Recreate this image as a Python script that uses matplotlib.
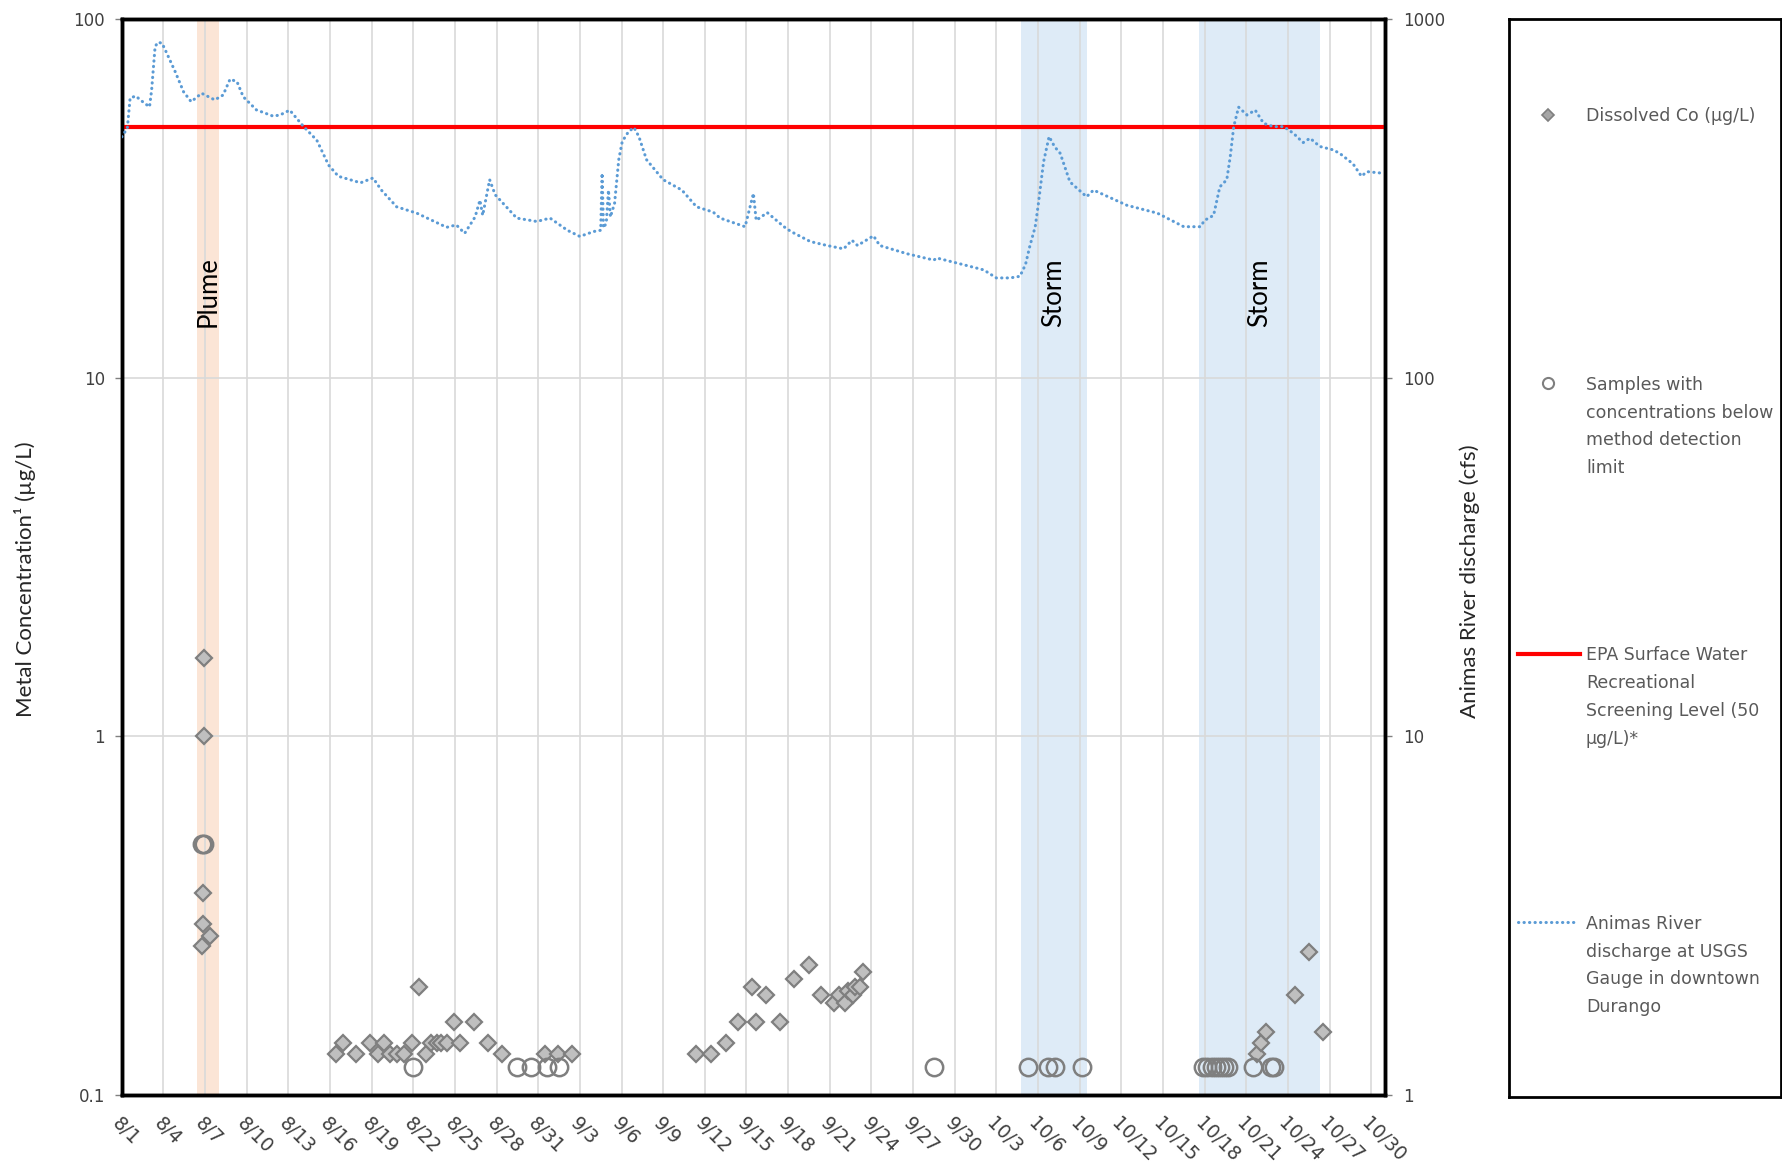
import pandas as pd
import matplotlib
matplotlib.use("Agg")
import matplotlib.pyplot as plt
from matplotlib.transforms import blended_transform_factory
from matplotlib.lines import Line2D

start = pd.Timestamp("2015-08-01")

# Animas River discharge (cfs), days after 8/1
q_day = [0.0, 0.4, 0.6, 1.0, 1.6, 2.0, 2.15, 2.4, 2.6, 2.9, 3.25, 3.85, 4.45, 5.0,
         5.75, 6.7, 7.3, 7.8, 8.3, 8.75, 9.7, 10.9, 11.4, 12.1, 13.1, 14.05, 14.9,
         15.6, 17.2, 18.1, 18.7, 19.8, 21.25, 23.4, 24.1, 24.7, 25.45, 25.8, 26.0,
         26.5, 26.9, 28.45, 29.9, 30.85, 32.1, 33.0, 34.0, 34.5, 34.6, 34.7, 34.9,
         35.06, 35.2, 35.5, 35.8, 36.05, 36.5, 36.9, 37.25, 37.8, 39.0, 40.35, 41.4,
         42.6, 43.1, 44.9, 45.5, 45.7, 46.5, 47.7, 48.2, 49.6, 50.8, 52.0, 52.6,
         53.0, 54.15, 54.6, 56.55, 58.5, 58.7, 60.6, 62.1, 63.0, 64.0, 64.7, 65.1,
         65.4, 65.8, 66.0, 66.4, 66.8, 67.2, 67.6, 68.3, 69.5, 70.0, 72.4, 74.6,
         76.5, 77.7, 78.0, 78.65, 79.1, 79.6, 79.85, 80.1, 80.45, 81.05, 81.65,
         82.25, 82.95, 83.7, 84.4, 85.1, 85.6, 86.3, 87.3, 87.8, 88.7, 89.3, 89.7,
         90.9]
q_cfs = [470, 497, 603, 611, 585, 570, 635, 839, 863, 858, 803, 714, 628, 589,
         622, 596, 615, 681, 670, 608, 559, 537, 541, 558, 502, 460, 392,
         365, 350, 361, 334, 300, 288, 263, 267, 253, 281, 313, 284,
         357, 324, 279, 273, 279, 258, 248, 256, 258, 372, 262, 270,
         334, 281, 307, 406, 456, 486, 499, 471, 406, 357, 334, 300,
         290, 279, 264, 327, 275, 289, 264, 256, 240, 234, 229, 242,
         234, 249, 234, 222, 213, 216, 207, 200, 190, 190, 192, 207,
         232, 264, 300, 400, 471, 441, 423, 352, 320, 334, 303, 288,
         264, 264, 275, 284, 341, 357, 414, 502, 569, 541, 558,
         513, 502, 502, 481, 453, 466, 442, 432, 421, 395, 365, 376,
         372]

# dissolved Co (ug/L)
co_day = [5.95, 5.95, 5.83, 5.83, 6.36, 5.76,
          15.4, 15.9, 16.9, 17.9, 18.45, 18.9, 19.3, 19.8, 20.3, 20.9, 21.4, 21.9,
          22.3, 22.7, 23.0, 23.4, 23.9, 24.4, 25.4, 26.4, 27.4, 30.5, 31.4, 32.4,
          41.4, 42.45, 43.5, 44.4, 45.4, 45.7, 46.4, 47.4, 48.45, 49.5, 50.4, 51.3,
          51.7, 52.1, 52.3, 52.65, 52.85, 53.2, 53.4,
          81.8, 82.1, 82.45, 84.5, 85.5, 86.5]
co_val = [1.66, 1.0, 0.367, 0.30, 0.278, 0.26,
          0.13, 0.14, 0.13, 0.14, 0.13, 0.14, 0.13, 0.13, 0.13, 0.14, 0.20, 0.13,
          0.14, 0.14, 0.14, 0.14, 0.16, 0.14, 0.16, 0.14, 0.13, 0.13, 0.13, 0.13,
          0.13, 0.13, 0.14, 0.16, 0.20, 0.16, 0.19, 0.16, 0.21, 0.23, 0.19, 0.18,
          0.19, 0.18, 0.195, 0.19, 0.20, 0.20, 0.22,
          0.13, 0.14, 0.15, 0.19, 0.25, 0.15]

# samples below method detection limit
mdl_day = [5.8, 5.9, 20.95, 28.45, 29.5, 30.6, 31.5, 58.5, 65.3, 66.75, 67.2, 69.2,
           77.9, 78.2, 78.5, 78.8, 79.1, 79.4, 79.7, 81.5, 82.8, 83.0]
mdl_val = [0.5, 0.5, 0.12, 0.12, 0.12, 0.12, 0.12, 0.12, 0.12, 0.12, 0.12, 0.12,
           0.12, 0.12, 0.12, 0.12, 0.12, 0.12, 0.12, 0.12, 0.12, 0.12]

screening_level = 50

plume = (5.43, 7.0)
storms = [(64.8, 69.5), (77.6, 86.3)]
band_labels = [("Plume", 6.2), ("Storm", 67.1), ("Storm", 82.0)]

tick_days = list(range(0, 91, 3))
tick_labels = [f"{d.month}/{d.day}" for d in start + pd.to_timedelta(tick_days, unit="D")]

grey_txt = "#404040"

fig = plt.figure(figsize=(17.83, 11.64), dpi=100)
ax = fig.add_axes([0.0683, 0.0593, 0.7085, 0.9241])

# shaded periods
ax.axvspan(*plume, color="#FBE5D6", zorder=0.2, lw=0)
for s0, s1 in storms:
    ax.axvspan(s0, s1, color="#DEEBF7", zorder=0.2, lw=0)

ax.set_yscale("log")
ax.set_ylim(0.1, 100)
ax.set_xlim(0, 91)
ax.set_axisbelow(True)
ax.grid(True, color="#D9D9D9", lw=1.2)
ax.set_xticks(tick_days)
ax.set_xticklabels(tick_labels, rotation=-45, ha="left", va="top", rotation_mode="anchor")
ax.set_yticks([0.1, 1, 10, 100])
ax.set_yticklabels(["0.1", "1", "10", "100"])
ax.minorticks_off()
ax.tick_params(axis="x", length=0, pad=14, labelsize=13.5, labelcolor=grey_txt)
ax.tick_params(axis="y", length=5, width=1, color="#808080", pad=7, labelsize=12,
               labelcolor=grey_txt)

ax.axhline(screening_level, color="#FF0000", lw=3, zorder=3)
ax.plot(co_day, co_val, ls="none", marker="D", ms=8.5, mfc="#BFBFBF", mec="#7F7F7F",
        mew=1.6, zorder=4)
ax.plot(mdl_day, mdl_val, ls="none", marker="o", ms=12.5, mfc="none", mec="#7F7F7F",
        mew=1.8, zorder=4)

trans = blended_transform_factory(ax.transData, ax.transAxes)
for lab, xd in band_labels:
    ax.text(xd, 0.714, lab, rotation=90, ha="center", va="bottom", transform=trans,
            fontsize=18.5, family="Lato", color="black", zorder=5)

ax2 = ax.twinx()
ax2.set_yscale("log")
ax2.set_ylim(1, 1000)
ax2.plot(q_day, q_cfs, color="#5B9BD5", lw=2.2, ls=(0, (0.1, 1.7)),
         dash_capstyle="round", zorder=3)
ax2.set_yticks([1, 10, 100, 1000])
ax2.set_yticklabels(["1", "10", "100", "1000"])
ax2.minorticks_off()
ax2.tick_params(axis="y", length=5, width=1, color="#808080", pad=8, labelsize=12,
                labelcolor=grey_txt)

for a in (ax, ax2):
    for sp in a.spines.values():
        sp.set_linewidth(2.5)
        sp.set_color("black")

fig.text(0.014, 0.502, "Metal Concentration\u00b9 (\u00b5g/L)", rotation=90,
         ha="center", va="center", fontsize=16, family="Lato", color="#262626")
fig.text(0.8245, 0.501, "Animas River discharge (cfs)", rotation=90,
         ha="center", va="center", fontsize=16, family="Lato", color="#262626")

# legend box
lg = fig.add_axes([0.8463, 0.0576, 0.1526, 0.9261])
lg.set_xlim(0, 1)
lg.set_ylim(0, 1)
lg.set_xticks([])
lg.set_yticks([])
for sp in lg.spines.values():
    sp.set_linewidth(2)
    sp.set_color("black")

leg_txt = "#595959"
rows = [0.911, 0.662, 0.411, 0.162]
lg.plot([0.143], [rows[0]], marker="D", ms=6, mfc="#A6A6A6", mec="#7F7F7F", mew=1.2, ls="none")
lg.plot([0.143], [rows[1]], marker="o", ms=8, mfc="none", mec="#7F7F7F", mew=1.5, ls="none")
lg.add_line(Line2D([0.033, 0.261], [rows[2]] * 2, color="#FF0000", lw=3))
lg.add_line(Line2D([0.033, 0.243], [rows[3]] * 2, color="#5B9BD5", lw=2.2,
                   ls=(0, (0.1, 1.7)), dash_capstyle="round"))
texts = ["Dissolved Co (\u00b5g/L)",
         "Samples with\nconcentrations below\nmethod detection\nlimit",
         "EPA Surface Water\nRecreational\nScreening Level (50\n\u00b5g/L)*",
         "Animas River\ndischarge at USGS\nGauge in downtown\nDurango"]
for y, t in zip(rows, texts):
    lg.text(0.283, y + 0.007, t, ha="left", va="top", fontsize=12.5, color=leg_txt,
            linespacing=1.7)

fig.savefig("out.png", dpi=100)
